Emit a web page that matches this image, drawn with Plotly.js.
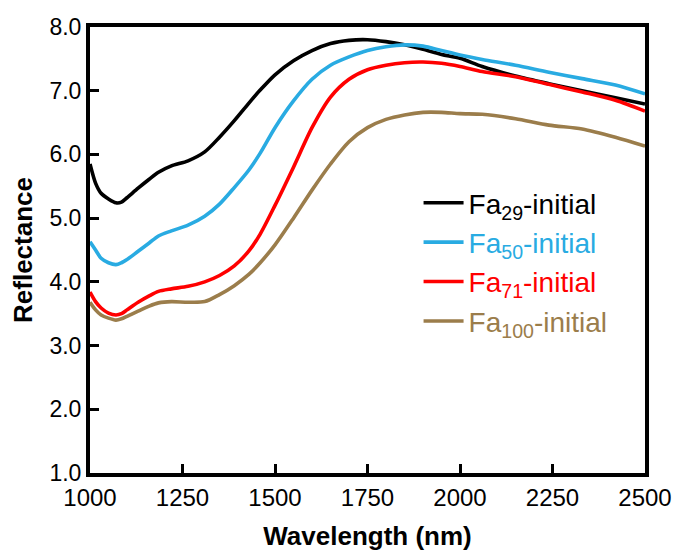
<!DOCTYPE html>
<html>
<head>
<meta charset="utf-8">
<script src="https://cdn.plot.ly/plotly-3.0.1.min.js"></script>
<style>html,body{margin:0;padding:0;background:#fff;}#chart{width:677px;height:551px;}</style>
</head>
<body>
<div id="chart"></div>
<script>
var wavelength = [1000,1015,1030,1050,1070,1085,1100,1130,1160,1185,1220,1265,1310,1350,1390,1430,1460,1500,1550,1600,1650,1700,1750,1800,1850,1900,1950,2000,2060,2150,2240,2330,2420,2500];
var fa29 = [5.85,5.55,5.39,5.30,5.24,5.25,5.32,5.47,5.61,5.72,5.82,5.90,6.04,6.27,6.53,6.81,7.01,7.25,7.47,7.63,7.74,7.79,7.80,7.77,7.72,7.65,7.57,7.51,7.38,7.23,7.11,7.00,6.89,6.79];
var fa50 = [4.63,4.50,4.37,4.30,4.27,4.30,4.35,4.48,4.61,4.72,4.80,4.89,5.03,5.22,5.48,5.76,6.02,6.42,6.84,7.18,7.40,7.53,7.63,7.69,7.72,7.70,7.63,7.56,7.49,7.40,7.29,7.19,7.09,6.95];
var fa71 = [3.84,3.69,3.59,3.51,3.48,3.50,3.56,3.68,3.78,3.85,3.89,3.93,4.00,4.10,4.25,4.49,4.75,5.20,5.80,6.42,6.90,7.18,7.33,7.40,7.44,7.45,7.43,7.38,7.30,7.22,7.10,6.98,6.85,6.68];
var fa100 = [3.68,3.56,3.48,3.43,3.40,3.42,3.46,3.54,3.62,3.67,3.69,3.68,3.69,3.80,3.94,4.12,4.30,4.58,5.00,5.44,5.85,6.20,6.42,6.55,6.62,6.66,6.66,6.64,6.63,6.56,6.46,6.40,6.27,6.13];
var seriesNames = ['Fa<sub>29</sub>-initial','Fa<sub>50</sub>-initial','Fa<sub>71</sub>-initial','Fa<sub>100</sub>-initial'];
var seriesColors = ['#000000','#29ABE2','#FF0000','#9B7D4B'];
var xTicks = [1000,1250,1500,1750,2000,2250,2500];
var yTicks = [1,2,3,4,5,6,7,8];

var allY = [fa29, fa50, fa71, fa100];
var traces = allY.map(function(y, i){
  return {
    x: wavelength, y: y, type: 'scatter', mode: 'lines',
    name: '<span style="color:' + seriesColors[i] + '">' + seriesNames[i] + '</span>',
    line: {color: seriesColors[i], width: 3.6, shape: 'spline', smoothing: 0.8}
  };
});

var FONT = 'Liberation Sans, Arial, sans-serif';
var layout = {
  width: 677, height: 551,
  margin: {l: 90, r: 32, t: 27, b: 78},
  paper_bgcolor: '#fff', plot_bgcolor: '#fff',
  showlegend: true,
  legend: {x: 0.592, y: 0.473, xanchor: 'left', yanchor: 'middle', bgcolor: 'rgba(0,0,0,0)',
           font: {family: FONT, size: 28, color: '#000'},
           itemwidth: 40, tracegroupgap: 0},
  xaxis: {
    range: [1000, 2500], tickvals: xTicks, ticktext: xTicks.map(String),
    ticks: 'inside', ticklen: 9, tickwidth: 3, tickcolor: '#000',
    showline: true, linewidth: 4, linecolor: '#000', mirror: true,
    showgrid: false, zeroline: false, tickfont: {family: FONT, size: 24, color: '#000'},
    title: {text: '<b>Wavelength (nm)</b>', font: {family: FONT, size: 26, color: '#000'}, standoff: 20}
  },
  yaxis: {
    range: [1, 8], tickvals: yTicks, ticktext: yTicks.map(function(v){return v.toFixed(1);}),
    ticks: 'inside', ticklen: 9, tickwidth: 3, tickcolor: '#000',
    showline: true, linewidth: 4, linecolor: '#000', mirror: true,
    showgrid: false, zeroline: false, tickfont: {family: FONT, size: 23, color: '#000'},
    title: {text: '<b>Reflectance</b>', font: {family: FONT, size: 26, color: '#000'}, standoff: 10}
  }
};
Plotly.newPlot('chart', traces, layout, {displayModeBar: false});
</script>
</body>
</html>
